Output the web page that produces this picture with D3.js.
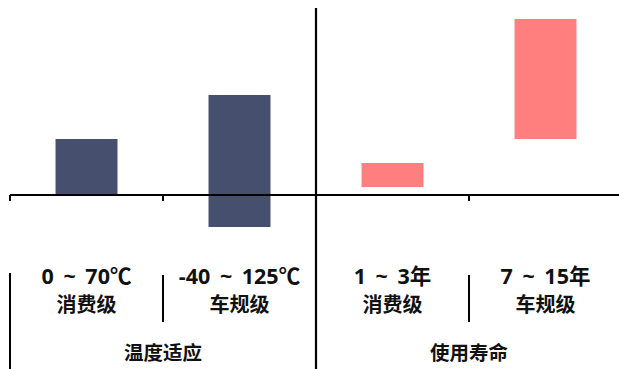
<!DOCTYPE html>
<html lang="zh">
<head>
<meta charset="utf-8">
<title>温度适应 / 使用寿命</title>
<script src="https://cdn.jsdelivr.net/npm/d3@7/dist/d3.min.js"></script>
<style>
  body { margin: 0; background: #fff; }
  svg text { font-family: "Noto Sans CJK SC", "Noto Sans", sans-serif; font-weight: bold; fill: #111; }
  svg tspan.range { font-family: "Open Sans", "Noto Sans CJK SC", sans-serif; word-spacing: 4px; }
</style>
</head>
<body>
<script>
// categories and labels
var cats = ["temp-c", "temp-a", "life-c", "life-a"];
var rangeLabels = ["0 ~ 70℃", "-40 ~ 125℃", "1 ~ 3年", "7 ~ 15年"];
var gradeLabels = ["消费级", "车规级", "消费级", "车规级"];
var groups = ["温度适应", "使用寿命"];

// temperature bars (℃)
var tempLow = [0, -40];
var tempHigh = [70, 125];
// service life bars (years, as drawn)
var lifeLow = [1, 5];
var lifeHigh = [3, 15];

var w = 619, h = 369;
var axisY = 195;

var svg = d3.select("body").append("svg")
    .attr("width", w)
    .attr("height", h);

var x = d3.scaleBand().domain(cats).range([10, 622]);
var barW = x.bandwidth() * 0.405;

var yTemp = d3.scaleLinear().domain([-40, 125]).range([227, 95]);
var yLife = d3.scaleLinear().domain([0, 15]).range([199, 19]);

var bars = [];
tempLow.forEach(function(d, i) {
  bars.push({c: cats[i], lo: yTemp(d), hi: yTemp(tempHigh[i]), color: "#46506e"});
});
lifeLow.forEach(function(d, i) {
  bars.push({c: cats[i + 2], lo: yLife(d), hi: yLife(lifeHigh[i]), color: "#ff7f7f"});
});

svg.selectAll("rect.bar")
  .data(bars)
  .enter()
  .append("rect")
  .attr("class", "bar")
  .attr("x", function(d) { return x(d.c) + (x.bandwidth() - barW) / 2; })
  .attr("width", barW)
  .attr("y", function(d) { return Math.min(d.lo, d.hi); })
  .attr("height", function(d) { return Math.abs(d.lo - d.hi); })
  .attr("fill", function(d) { return d.color; });

// horizontal axis line
svg.append("line")
  .attr("x1", 10).attr("x2", w)
  .attr("y1", axisY).attr("y2", axisY)
  .attr("stroke", "#000").attr("stroke-width", 2.2);

// boundary ticks
svg.selectAll("line.tick")
  .data(cats)
  .enter()
  .append("line")
  .attr("class", "tick")
  .attr("x1", function(d) { return x(d); })
  .attr("x2", function(d) { return x(d); })
  .attr("y1", axisY)
  .attr("y2", axisY + 6)
  .attr("stroke", "#000").attr("stroke-width", 2);

// group divider (full height)
var mid = x(cats[2]);
svg.append("line")
  .attr("x1", mid).attr("x2", mid)
  .attr("y1", 8).attr("y2", h)
  .attr("stroke", "#000").attr("stroke-width", 2.2);

// left edge of label table
svg.append("line")
  .attr("x1", 10).attr("x2", 10)
  .attr("y1", 273).attr("y2", h)
  .attr("stroke", "#000").attr("stroke-width", 2);

// separators between categories inside a group
[cats[1], cats[3]].forEach(function(c) {
  svg.append("line")
    .attr("x1", x(c)).attr("x2", x(c))
    .attr("y1", 275).attr("y2", 322)
    .attr("stroke", "#000").attr("stroke-width", 2);
});

// category labels: two lines per category
var lbl = svg.selectAll("text.cat")
  .data(cats)
  .enter()
  .append("text")
  .attr("class", "cat")
  .attr("text-anchor", "middle");

lbl.append("tspan")
  .attr("class", "range")
  .attr("x", function(d) { return x(d) + x.bandwidth() / 2; })
  .attr("y", 284)
  .style("font-size", "21.5px")
  .text(function(d, i) { return rangeLabels[i]; });

lbl.append("tspan")
  .attr("class", "grade")
  .attr("x", function(d) { return x(d) + x.bandwidth() / 2; })
  .attr("y", 312)
  .style("font-size", "20px")
  .text(function(d, i) { return gradeLabels[i]; });

// group labels
svg.selectAll("text.group")
  .data(groups)
  .enter()
  .append("text")
  .attr("class", "group")
  .attr("x", function(d, i) { return x(cats[i * 2 + 1]); })
  .attr("y", 360)
  .attr("text-anchor", "middle")
  .style("font-size", "19.5px")
  .text(function(d) { return d; });
</script>
</body>
</html>
